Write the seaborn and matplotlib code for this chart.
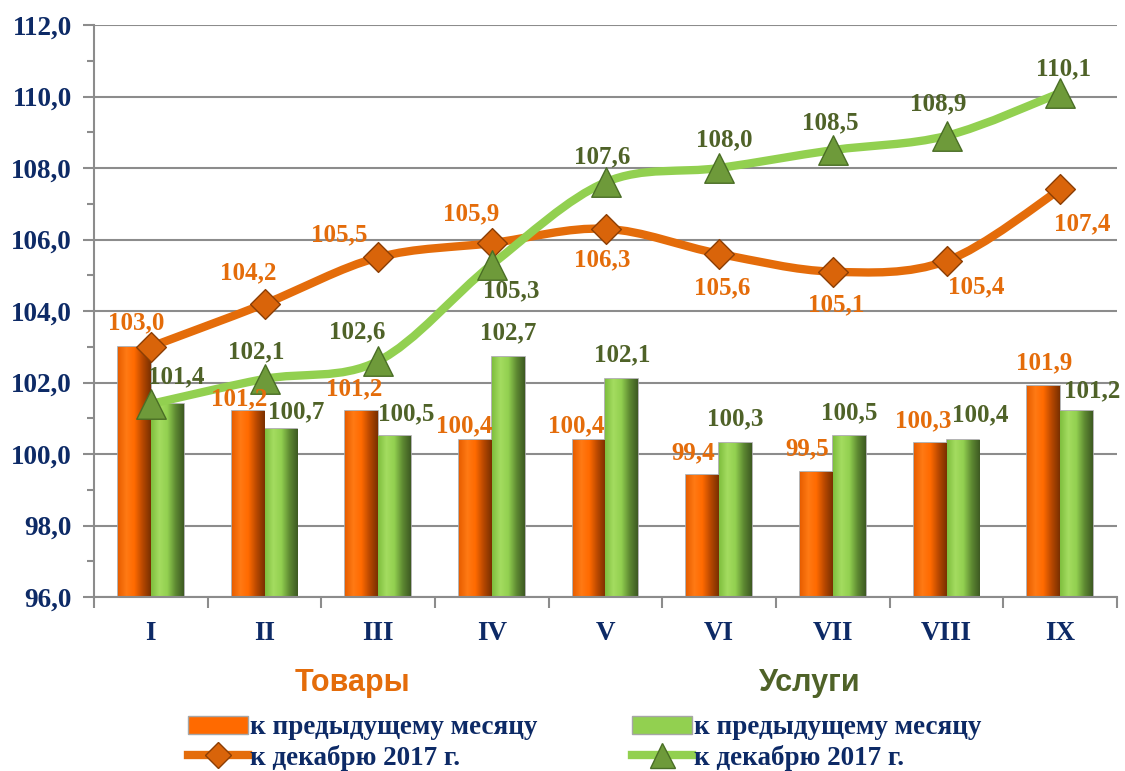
import numpy as np
import pandas as pd
import seaborn as sns
import matplotlib.pyplot as plt
from matplotlib.path import Path
from matplotlib.patches import PathPatch, Patch
from matplotlib.lines import Line2D
from matplotlib.colors import LinearSegmentedColormap

# data
months = ['I', 'II', 'III', 'IV', 'V', 'VI', 'VII', 'VIII', 'IX']
goods_month = [103.0, 101.2, 101.2, 100.4, 100.4, 99.4, 99.5, 100.3, 101.9]
serv_month = [101.4, 100.7, 100.5, 102.7, 102.1, 100.3, 100.5, 100.4, 101.2]
goods_dec = [103.0, 104.2, 105.5, 105.9, 106.3, 105.6, 105.1, 105.4, 107.4]
serv_dec = [101.4, 102.1, 102.6, 105.3, 107.6, 108.0, 108.5, 108.9, 110.1]
lbl_month = 'к предыдущему месяцу'
lbl_dec = 'к декабрю 2017 г.'

# label offsets in pixels (dx, dy up); None = no label
goods_dec_off = [(-15, 24), (-16, 31), (-39, 23), (-21, 29), (-3, -31), (3, -34), (3, -33), (30, -26), (22, -34)]
serv_dec_off = [(25, 27), (-8, 27), (-21, 29), (19, -26), (-3, 25), (5, 28), (-3, 27), (-8, 32), (3, 24)]
goods_bar_off = [None, (-9, 12), (-7, 22), (-11, 14), (-13, 14), (-9, 23), (-9, 23), (-7, 22), (0, 23)]
serv_bar_off = [None, (15, 17), (12, 22), (0, 25), (0, 24), (0, 24), (0, 23), (17, 25), (16, 20)]

ORANGE = '#E46C0A'
ORANGE_BAR = '#FF6A00'
GREEN = '#92D050'
GREEN_TXT = '#4F6228'
NAVY = '#0D2A66'
GRID = '#8C8C8C'

plt.rcParams['font.family'] = ['Liberation Serif', 'DejaVu Serif']

df = pd.DataFrame({
    'month': months * 2,
    'value': goods_month + serv_month,
    'series': ['goods'] * 9 + ['serv'] * 9,
})

fig = plt.figure(figsize=(11.25, 7.71), dpi=100)
ax = fig.add_axes([94 / 1125, 1 - 597 / 771, (1117 - 94) / 1125, (597 - 25) / 771])

sns.barplot(data=df, x='month', y='value', hue='series', palette=[ORANGE_BAR, GREEN],
            width=0.58, saturation=1, legend=False, ax=ax, zorder=2,
            edgecolor='#A6A6A6', linewidth=1.2)

ax.set_ylim(96, 112)
ax.set_xlim(-0.5, 8.5)

# gradient shading on bars
cmaps = {
    ORANGE_BAR: LinearSegmentedColormap.from_list('o', ['#E85E00', '#FF7A14', '#FF6A00', '#B84800', '#7A3000']),
    GREEN: LinearSegmentedColormap.from_list('g', ['#7FBF3F', '#A4DC60', '#92D050', '#5E8A32', '#3E5A22']),
}
grad = np.linspace(0, 1, 64).reshape(1, -1)
for i, p in enumerate(ax.patches):
    x0, w = p.get_x(), p.get_width()
    h = p.get_height()
    cm = cmaps[ORANGE_BAR] if i < 9 else cmaps[GREEN]
    im = ax.imshow(grad, cmap=cm, aspect='auto', extent=[x0, x0 + w, 96, h], zorder=2.1)
    im.set_clip_path(p)
ax.set_xlim(-0.5, 8.5)
ax.set_ylim(96, 112)


def smooth_path(xs, ys):
    pts = np.column_stack([xs, ys]).astype(float)
    verts = [pts[0]]
    codes = [Path.MOVETO]
    n = len(pts)
    for i in range(n - 1):
        p0 = pts[i - 1] if i > 0 else pts[i]
        p1, p2 = pts[i], pts[i + 1]
        p3 = pts[i + 2] if i + 2 < n else pts[i + 1]
        c1 = p1 + (p2 - p0) / 6
        c2 = p2 - (p3 - p1) / 6
        verts += [c1, c2, p2]
        codes += [Path.CURVE4] * 3
    return Path(verts, codes)


xpos = np.arange(len(months))
for vals, col in [(goods_dec, ORANGE), (serv_dec, GREEN)]:
    ax.add_patch(PathPatch(smooth_path(xpos, vals), fill=False, edgecolor=col, lw=6,
                           capstyle='round', joinstyle='round', zorder=3))

sns.scatterplot(x=xpos, y=goods_dec, marker='D', s=230, color='#D9640A',
                edgecolor='#8B3E05', linewidth=1, ax=ax, zorder=4)
sns.scatterplot(x=xpos, y=serv_dec, marker='^', s=450, color='#6E9A3A',
                edgecolor='#4A6E26', linewidth=1, ax=ax, zorder=4)


def fmt(v):
    return f'{v:.1f}'.replace('.', ',')


def put(x, y, v, off, color):
    if off is None:
        return
    ax.annotate(fmt(v), (x, y), xytext=(off[0] * 0.72, off[1] * 0.72), textcoords='offset points',
                ha='center', va='center', fontsize=18, fontweight='bold', color=color, zorder=6)


bw = 0.29
for i in range(len(months)):
    put(i, goods_dec[i], goods_dec[i], goods_dec_off[i], ORANGE)
    put(i, serv_dec[i], serv_dec[i], serv_dec_off[i], GREEN_TXT)
    put(i - bw / 2, goods_month[i], goods_month[i], goods_bar_off[i], ORANGE)
    put(i + bw / 2, serv_month[i], serv_month[i], serv_bar_off[i], GREEN_TXT)

# axes styling
ax.set_yticks(np.arange(96, 113, 2))
ax.set_yticks(np.arange(97, 112, 2), minor=True)
ax.set_yticklabels([fmt(v) for v in np.arange(96, 113, 2)], fontsize=19.5, fontweight='bold', color=NAVY)
ax.yaxis.grid(True, color=GRID, lw=1.5, zorder=0)
ax.set_axisbelow(True)
ax.tick_params(axis='y', which='major', length=8, width=1.5, color=GRID, pad=8)
ax.tick_params(axis='y', which='minor', length=5, width=1.5, color=GRID)
ax.set_xticks(xpos)
ax.set_xticklabels(months, fontsize=19.5, fontweight='bold', color=NAVY)
ax.set_xticks(np.arange(-0.5, 9, 1), minor=True)
ax.tick_params(axis='x', which='major', length=0, pad=17)
ax.tick_params(axis='x', which='minor', length=8, width=1.5, color=GRID)
ax.set_xlabel('')
ax.set_ylabel('')
for s in ['top', 'right']:
    ax.spines[s].set_visible(False)
for s in ['left', 'bottom']:
    ax.spines[s].set_color(GRID)
    ax.spines[s].set_linewidth(1.5)

# group titles
fig.text(352 / 1125, 1 - 683 / 771, 'Товары', ha='center', va='center', fontsize=22,
         fontweight='bold', color=ORANGE, family='Liberation Sans')
fig.text(810 / 1125, 1 - 683 / 771, 'Услуги', ha='center', va='center', fontsize=22,
         fontweight='bold', color=GREEN_TXT, family='Liberation Sans')

# legends
leg_kw = dict(loc='center left', frameon=False, fontsize=19.5, handlelength=2.2, handletextpad=0.08,
              labelspacing=0.15, borderpad=0, borderaxespad=0)
h1 = [Patch(facecolor=ORANGE_BAR, edgecolor='#A6A6A6'),
      Line2D([], [], color=ORANGE, lw=6, marker='D', markersize=13, markerfacecolor='#D9640A',
             markeredgecolor='#8B3E05')]
h2 = [Patch(facecolor=GREEN, edgecolor='#A6A6A6'),
      Line2D([], [], color=GREEN, lw=6, marker='^', markersize=18, markerfacecolor='#6E9A3A',
             markeredgecolor='#4A6E26')]
for handles, x0 in [(h1, 188), (h2, 632)]:
    lg = fig.legend(handles, [lbl_month, lbl_dec], bbox_to_anchor=(x0 / 1125, 1 - 743 / 771), **leg_kw)
    for t in lg.get_texts():
        t.set_color(NAVY)
        t.set_fontweight('bold')

fig.savefig('out.png', dpi=100)
